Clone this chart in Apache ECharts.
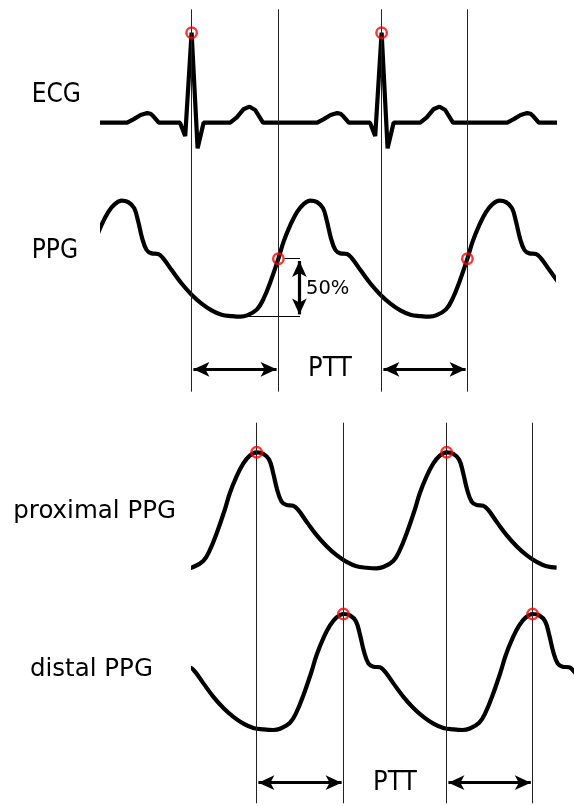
<!DOCTYPE html>
<html>
<head>
<meta charset="utf-8">
<script src="https://cdn.jsdelivr.net/npm/echarts@6/dist/echarts.min.js"></script>
<style>
  html, body { margin: 0; padding: 0; background: #fff; }
  #chart { width: 574px; height: 806px; }
</style>
</head>
<body>
<div id="chart"></div>
<script>
// ---------------------------------------------------------------
// Data
// ---------------------------------------------------------------
// One ECG heartbeat: time (ms) relative to the R peak, amplitude (mV)
const ecgBeatMs = [-322, -289, -255, -222, -205, -190, -164, -58, -32, 0, 30, 60, 193, 226, 259, 290, 318, 357];
const ecgBeatMv = [0, 0.04, 0.085, 0.107, 0.1, 0.068, 0, 0, -0.148, 1.0, -0.285, 0, 0, 0.06, 0.149, 0.178, 0.141, 0];
// R-peak times (ms) and the recorded ECG window (ms)
const ecgRPeaks = [8, 958, 1908, 2858];
const ecgWindow = [513, 2770];

// One PPG pulse: time (ms) relative to the systolic peak, amplitude normalised (foot = 0, peak = 1)
const ppgPulseMs = [-350, -317, -267, -234, -200, -160, -134, -100, -67, -34, 0, 33, 63, 83, 103, 125, 150, 183, 208, 250, 300, 350, 400, 450, 500, 550];
const ppgPulseAmp = [0, 0.011, 0.063, 0.156, 0.30, 0.5, 0.647, 0.792, 0.902, 0.971, 1.0, 0.988, 0.936, 0.82, 0.676, 0.575, 0.546, 0.54, 0.503, 0.402, 0.286, 0.19, 0.113, 0.055, 0.017, 0.005];

// Finger PPG recorded alongside the ECG: systolic peak times (ms)
const ppgPeaks = [608, 1552, 2497];
const ppgWindow = [513, 2767];
// Pulse arrival is taken where the upstroke crosses half the pulse amplitude
const arrivalLevel = 0.5;

// Two-site PPG: systolic peak times (ms) at the proximal and distal sensors
const proximalPeaks = [333, 1283, 2233];
const distalPeaks = [767, 1717, 2663];
const twoSiteWindow = [967, 2870];

// Labels
const rowLabels = ['ECG', 'PPG', 'proximal PPG', 'distal PPG'];
const pttLabel = 'PTT';
const levelLabel = '50%';

// ---------------------------------------------------------------
// Layout
// ---------------------------------------------------------------
const W = 574;
const MS_PER_PX = 5;
const FULL_MS = W * MS_PER_PX;
const INK = '#000';
const MARK = '#ff0000';
const TRACE_W = 4.2;

function beatTrain(peaks, offsets, values) {
  const pts = [];
  peaks.forEach(p => offsets.forEach((o, i) => pts.push([p + o, values[i]])));
  return pts;
}
function inWindow(times, win) {
  return times.filter(t => t >= win[0] && t <= win[1]);
}

// trace panels: time window, baseline y (px), px per unit, y range
const panels = [
  { win: ecgWindow, base: 122.7, ppu: 90, yMin: -0.5, yMax: 1.2 },
  { win: ppgWindow, base: 316.7, ppu: 116, yMin: -0.15, yMax: 1.15 },
  { win: twoSiteWindow, base: 568.3, ppu: 116, yMin: -0.15, yMax: 1.15 },
  { win: twoSiteWindow, base: 730, ppu: 116, yMin: -0.15, yMax: 1.15 }
];
// overlay panels for the timing lines (y in px from the panel top)
const overlays = [
  { top: 9.3, height: 382.4, arrowY: 360 },
  { top: 422.7, height: 380.6, arrowY: 360 }
];

const grids = [], xAxes = [], yAxes = [];
panels.forEach((p, i) => {
  grids.push({ left: p.win[0] / MS_PER_PX, right: W - p.win[1] / MS_PER_PX,
               top: p.base - p.yMax * p.ppu, height: (p.yMax - p.yMin) * p.ppu });
  xAxes.push({ type: 'value', gridIndex: i, min: p.win[0], max: p.win[1], show: false });
  yAxes.push({ type: 'value', gridIndex: i, min: p.yMin, max: p.yMax, show: false });
});
overlays.forEach((o, j) => {
  const i = panels.length + j;
  grids.push({ left: 0, right: 0, top: o.top, height: o.height });
  xAxes.push({ type: 'value', gridIndex: i, min: 0, max: FULL_MS, show: false });
  yAxes.push({ type: 'value', gridIndex: i, min: 0, max: o.height, inverse: true, show: false });
});

// ---------------------------------------------------------------
// Derived series
// ---------------------------------------------------------------
const rAmp = ecgBeatMv[ecgBeatMs.indexOf(0)];
const arrivalOffset = ppgPulseMs[ppgPulseAmp.indexOf(arrivalLevel)];
const peakAmp = ppgPulseAmp[ppgPulseMs.indexOf(0)];

const ecgData = beatTrain(ecgRPeaks, ecgBeatMs, ecgBeatMv);
const ppgData = beatTrain(ppgPeaks, ppgPulseMs, ppgPulseAmp);
const proximalData = beatTrain(proximalPeaks, ppgPulseMs, ppgPulseAmp);
const distalData = beatTrain(distalPeaks, ppgPulseMs, ppgPulseAmp);

const rShown = inWindow(ecgRPeaks, ecgWindow);
const arrivalShown = inWindow(ppgPeaks.map(p => p + arrivalOffset), ppgWindow);
const proxShown = inWindow(proximalPeaks, twoSiteWindow);
const distShown = inWindow(distalPeaks, twoSiteWindow);

function traceSeries(name, idx, data) {
  return {
    name, type: 'line', xAxisIndex: idx, yAxisIndex: idx, data,
    showSymbol: false, silent: true, z: 3, clip: true,
    smooth: idx === 0 ? false : 0.4,
    lineStyle: { color: INK, width: TRACE_W }
  };
}
function markerSeries(name, idx, pts) {
  return {
    name, type: 'scatter', xAxisIndex: idx, yAxisIndex: idx, data: pts,
    symbol: 'circle', symbolSize: 10.5, silent: true, z: 5,
    itemStyle: { color: 'rgba(0,0,0,0)', borderColor: MARK, borderWidth: 2.4 }
  };
}
const arrowHead = [11, 16];
function arrowPair(t1, t2, y, inset) {
  return [
    { coord: [t1 + inset, y], symbol: 'arrow', symbolSize: arrowHead },
    { coord: [t2 - inset, y], symbol: 'arrow', symbolSize: arrowHead }
  ];
}
function overlaySeries(j, lineTimes, pairs, labelTime) {
  const idx = panels.length + j;
  const o = overlays[j];
  return [
    {
      name: 'timing lines ' + j, type: 'line', xAxisIndex: idx, yAxisIndex: idx, data: [],
      silent: true, z: 1,
      markLine: {
        silent: true, symbol: 'none', animation: false,
        label: { show: false },
        lineStyle: { color: '#222', width: 1, type: 'solid' },
        data: lineTimes.map(t => ({ xAxis: t }))
      }
    },
    {
      name: 'transit arrows ' + j, type: 'line', xAxisIndex: idx, yAxisIndex: idx, data: [],
      silent: true, z: 4,
      markLine: {
        silent: true, animation: false,
        label: { show: false },
        lineStyle: { color: INK, width: 3.2, type: 'solid' },
        data: pairs.map(p => arrowPair(p[0], p[1], o.arrowY, 9))
      },
      markPoint: {
        silent: true, animation: false, symbol: 'circle', symbolSize: 0,
        itemStyle: { color: 'rgba(0,0,0,0)' },
        label: { show: true, position: 'inside', formatter: pttLabel, color: INK,
                 fontFamily: 'DejaVu Sans Condensed', fontSize: 27 },
        data: [{ coord: [labelTime, o.arrowY] }]
      }
    }
  ];
}

// 50 % construction on the second PPG pulse
const refBeat = ppgPeaks[1];
const refArrival = refBeat + arrivalOffset;
const refFoot = refBeat + ppgPulseMs[0];
const levelX = refArrival + 108;
const levelArrowX = levelX - 3;

const ppgSeries = traceSeries('PPG', 1, ppgData);
ppgSeries.markLine = {
  silent: true, animation: false, label: { show: false }, symbol: 'none',
  lineStyle: { color: INK, width: 1, type: 'solid' },
  data: [
    [{ coord: [refArrival + 30, arrivalLevel] }, { coord: [levelX, arrivalLevel] }],
    [{ coord: [refFoot, 0] }, { coord: [levelX, 0] }],
    [{ coord: [levelArrowX, arrivalLevel - 0.02], symbol: 'arrow', symbolSize: [11, 16],
       lineStyle: { color: INK, width: 3.2, type: 'solid' } },
     { coord: [levelArrowX, 0.02], symbol: 'arrow', symbolSize: [11, 16] }]
  ]
};
ppgSeries.markPoint = {
  silent: true, animation: false, symbol: 'circle', symbolSize: 0,
  itemStyle: { color: 'rgba(0,0,0,0)' },
  label: { show: true, position: 'inside', align: 'left', formatter: levelLabel, color: INK,
           fontFamily: 'DejaVu Sans', fontSize: 19.5 },
  data: [{ coord: [levelX + 30, 0.24] }]
};

const series = [
  traceSeries('ECG', 0, ecgData),
  markerSeries('R peaks', 0, rShown.map(t => [t, rAmp])),
  ppgSeries,
  markerSeries('PPG arrival', 1, arrivalShown.map(t => [t, arrivalLevel])),
  traceSeries('proximal PPG', 2, proximalData),
  markerSeries('proximal peaks', 2, proxShown.map(t => [t, peakAmp])),
  traceSeries('distal PPG', 3, distalData),
  markerSeries('distal peaks', 3, distShown.map(t => [t, peakAmp]))
].concat(
  overlaySeries(0, rShown.concat(arrivalShown),
    rShown.map((t, k) => [t, arrivalShown[k]]),
    (arrivalShown[0] + rShown[1]) / 2),
  overlaySeries(1, proxShown.concat(distShown),
    proxShown.map((t, k) => [t, distShown[k]]),
    (distShown[0] + proxShown[1]) / 2)
);

const labelStyle = [
  { x: 31.7, y: 95, font: 'DejaVu Sans Condensed', size: 26 },
  { x: 31.7, y: 251.5, font: 'DejaVu Sans Condensed', size: 26 },
  { x: 13.3, y: 512, font: 'DejaVu Sans', size: 24.5 },
  { x: 30, y: 670, font: 'DejaVu Sans', size: 24.5 }
];

const chart = echarts.init(document.getElementById('chart'), null, { renderer: 'canvas' });
chart.setOption({
  animation: false,
  backgroundColor: '#fff',
  grid: grids,
  xAxis: xAxes,
  yAxis: yAxes,
  series: series,
  graphic: rowLabels.map((txt, i) => ({
    type: 'text', silent: true,
    style: {
      x: labelStyle[i].x, y: labelStyle[i].y, text: txt,
      fill: INK, font: labelStyle[i].size + 'px "' + labelStyle[i].font + '"',
      textAlign: 'left', textVerticalAlign: 'middle'
    }
  }))
});
</script>
</body>
</html>
